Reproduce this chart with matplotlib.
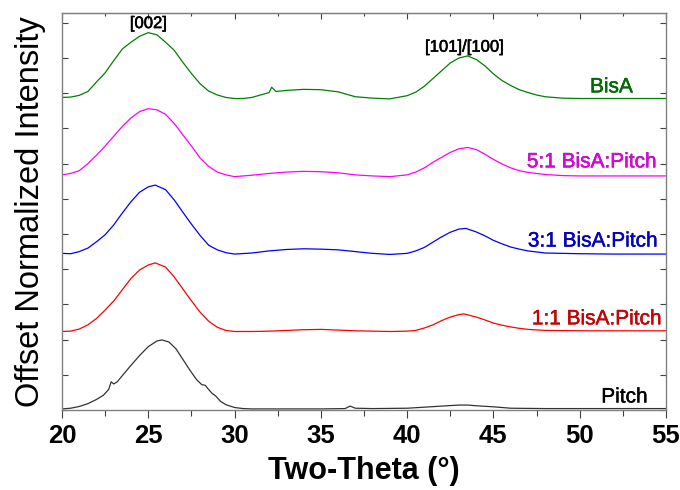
import matplotlib
matplotlib.use('Agg')
import matplotlib.pyplot as plt
import matplotlib.patheffects as pe
from matplotlib.ticker import MultipleLocator, NullFormatter

# Two-theta positions and offset intensities
bisa_x = [20, 20.5, 21, 21.5, 22, 22.5, 23, 23.5, 24, 24.5, 25, 25.5, 26, 26.5, 27, 27.5, 28, 28.5,
          29, 29.5, 30, 30.5, 31, 31.5, 32, 32.15, 32.4, 33, 34, 35, 36, 36.5, 37, 37.5, 38, 39, 40,
          40.5, 41, 41.5, 42, 42.5, 43, 43.5, 44, 44.5, 45, 45.5, 46, 46.5, 47, 47.5, 48, 49, 50, 52, 55]
bisa_y = [8.88, 8.89, 8.94, 9.05, 9.32, 9.58, 9.93, 10.26, 10.45, 10.62, 10.72, 10.66, 10.45, 10.22,
          9.88, 9.56, 9.27, 9.06, 8.95, 8.88, 8.85, 8.85, 8.88, 8.95, 9.02, 9.17, 9.05, 9.08, 9.11,
          9.10, 9.04, 8.97, 8.90, 8.88, 8.86, 8.84, 8.93, 9.03, 9.20, 9.42, 9.64, 9.86, 10.0, 10.06,
          9.96, 9.78, 9.55, 9.36, 9.22, 9.10, 9.02, 8.95, 8.90, 8.86, 8.85, 8.85, 8.85]

r51_x = [20, 20.5, 21, 21.5, 22, 22.5, 23, 23.5, 24, 24.5, 25, 25.5, 26, 26.5, 27, 27.5, 28, 28.5,
         29, 29.5, 30, 31, 32, 33, 34, 35, 36, 37, 38, 39, 40, 40.5, 41, 41.5, 42, 42.5, 43, 43.5,
         44, 44.5, 45, 45.5, 46, 46.5, 47, 48, 49, 50, 52, 55]
r51_y = [6.68, 6.72, 6.80, 7.0, 7.24, 7.50, 7.78, 8.06, 8.30, 8.48, 8.56, 8.53, 8.40, 8.14, 7.82,
         7.50, 7.16, 6.92, 6.76, 6.68, 6.63, 6.67, 6.72, 6.76, 6.78, 6.77, 6.74, 6.68, 6.65, 6.63,
         6.68, 6.76, 6.88, 7.04, 7.18, 7.32, 7.42, 7.46, 7.40, 7.27, 7.12, 6.99, 6.88, 6.80, 6.75,
         6.69, 6.66, 6.65, 6.65, 6.65]

r31_x = [20, 20.5, 21, 21.5, 22, 22.5, 23, 23.5, 24, 24.5, 25, 25.4, 26, 26.5, 27, 27.5, 28, 28.5,
         29, 29.5, 30, 31, 32, 33, 34, 35, 36, 37, 38, 39, 40, 40.5, 41, 41.5, 42, 42.5, 43, 43.4,
         44, 44.5, 45, 45.5, 46, 46.5, 47, 48, 50, 52, 55]
r31_y = [4.45, 4.44, 4.50, 4.60, 4.78, 4.98, 5.26, 5.60, 5.92, 6.19, 6.34, 6.39, 6.26, 5.97, 5.62,
         5.28, 4.96, 4.68, 4.55, 4.47, 4.43, 4.46, 4.52, 4.56, 4.58, 4.57, 4.55, 4.50, 4.45, 4.42,
         4.45, 4.52, 4.62, 4.77, 4.92, 5.05, 5.14, 5.16, 5.06, 4.95, 4.82, 4.72, 4.63, 4.57, 4.52,
         4.46, 4.44, 4.43, 4.43]

r11_x = [20, 20.5, 21, 21.5, 22, 22.5, 23, 23.5, 24, 24.5, 25, 25.4, 26, 26.5, 27, 27.5, 28, 28.5,
         29, 29.5, 30, 31, 32, 33, 34, 35, 36, 37, 38, 39, 40, 40.5, 41, 41.5, 42, 42.5, 43, 43.3,
         44, 44.5, 45, 45.5, 46, 46.5, 47, 48, 50, 52, 55]
r11_y = [2.23, 2.24, 2.30, 2.42, 2.60, 2.84, 3.10, 3.42, 3.74, 3.98, 4.12, 4.18, 4.06, 3.78, 3.44,
         3.10, 2.78, 2.52, 2.35, 2.26, 2.23, 2.23, 2.24, 2.26, 2.28, 2.29, 2.27, 2.25, 2.24, 2.23,
         2.24, 2.26, 2.33, 2.42, 2.54, 2.64, 2.71, 2.73, 2.64, 2.56, 2.47, 2.41, 2.36, 2.32, 2.29,
         2.26, 2.25, 2.25, 2.25]

pitch_x = [20, 20.5, 21, 21.5, 22, 22.4, 22.7, 22.85, 23.0, 23.2, 23.5, 24, 24.5, 25, 25.5, 25.8,
           26.2, 26.6, 27, 27.4, 27.8, 28.1, 28.3, 28.5, 28.7, 28.9, 29.2, 29.5, 30, 30.5, 31, 33,
           35, 36.4, 36.7, 37.0, 38, 40, 41, 42, 43, 43.5, 44, 45, 46, 48, 55]
pitch_y = [0.03, 0.05, 0.10, 0.18, 0.30, 0.42, 0.58, 0.80, 0.74, 0.80, 0.98, 1.27, 1.55, 1.80,
           1.96, 1.99, 1.93, 1.74, 1.44, 1.14, 0.86, 0.72, 0.70, 0.58, 0.47, 0.40, 0.24, 0.15, 0.07,
           0.04, 0.03, 0.03, 0.03, 0.04, 0.11, 0.05, 0.04, 0.05, 0.08, 0.11, 0.14, 0.14, 0.12, 0.09,
           0.05, 0.04, 0.04]

labels = ['BisA', '5:1 BisA:Pitch', '3:1 BisA:Pitch', '1:1 BisA:Pitch', 'Pitch']
line_colors = ['#008000', '#FF00FF', '#0000FF', '#FF0000', '#333333']
text_colors = ['#006E00', '#E000E0', '#0000C8', '#D00000', '#000000']
edge_colors = ['#004000', '#800080', '#000080', '#800000', '#000000']
label_x = [53.08, 54.47, 54.53, 54.76, 53.95]
label_y = [9.18, 7.05, 4.80, 2.59, 0.37]

plt.rcParams['font.family'] = ['Liberation Sans', 'DejaVu Sans']

fig = plt.figure(figsize=(6.8, 4.9), dpi=100)
ax = fig.add_axes([0.0912, 0.1633, 0.8882, 0.8102])

series = [(bisa_x, bisa_y), (r51_x, r51_y), (r31_x, r31_y), (r11_x, r11_y), (pitch_x, pitch_y)]
for (xs, ys), lc in zip(series, line_colors):
    ax.plot(xs, ys, color=lc, linewidth=0.9)

for lab, tc, ec, lx, ly in zip(labels, text_colors, edge_colors, label_x, label_y):
    ax.text(lx, ly, lab, color=tc, fontsize=15, ha='right', va='center',
            path_effects=[pe.withStroke(linewidth=0.3, foreground=ec)])

thin = [pe.withStroke(linewidth=0.4, foreground='black')]
ax.text(25.0, 10.98, '[002]', fontsize=12, ha='center', va='center', path_effects=thin)
ax.text(43.3, 10.31, '[101]/[100]', fontsize=12, ha='center', va='center', path_effects=thin)

ax.set_xlim(20, 55)
ax.set_ylim(0, 11.28)
ax.xaxis.set_major_locator(MultipleLocator(5))
ax.xaxis.set_minor_locator(MultipleLocator(2.5))
ax.yaxis.set_major_locator(MultipleLocator(1))
ax.yaxis.set_major_formatter(NullFormatter())

spine_col = '#808080'
for s in ax.spines.values():
    s.set_color(spine_col)
    s.set_linewidth(1.0)

ax.tick_params(axis='x', which='major', direction='out', length=6, width=0.8, color='#404040',
               labelsize=18.5, pad=4)
ax.tick_params(axis='x', which='minor', direction='out', length=4, width=0.8, color='#404040')
ax.tick_params(axis='y', which='major', direction='in', length=4, width=0.8, color='#404040',
               left=True, right=True)
for lbl in ax.get_xticklabels():
    lbl.set_fontweight('bold')

top = ax.secondary_xaxis('top')
top.xaxis.set_major_locator(MultipleLocator(5))
top.xaxis.set_minor_locator(MultipleLocator(2.5))
top.tick_params(axis='x', which='major', direction='in', length=4, width=0.8, color='#404040',
                labeltop=False)
top.tick_params(axis='x', which='minor', direction='in', length=2.5, width=0.8, color='#404040')
top.spines['top'].set_color(spine_col)

ax.set_xlabel('Two-Theta (°)', fontsize=22, fontweight='bold', labelpad=6)
ax.set_ylabel('Offset Normalized Intensity', fontsize=23.5, labelpad=8)

plt.savefig('out.png', dpi=100)
plt.close(fig)
